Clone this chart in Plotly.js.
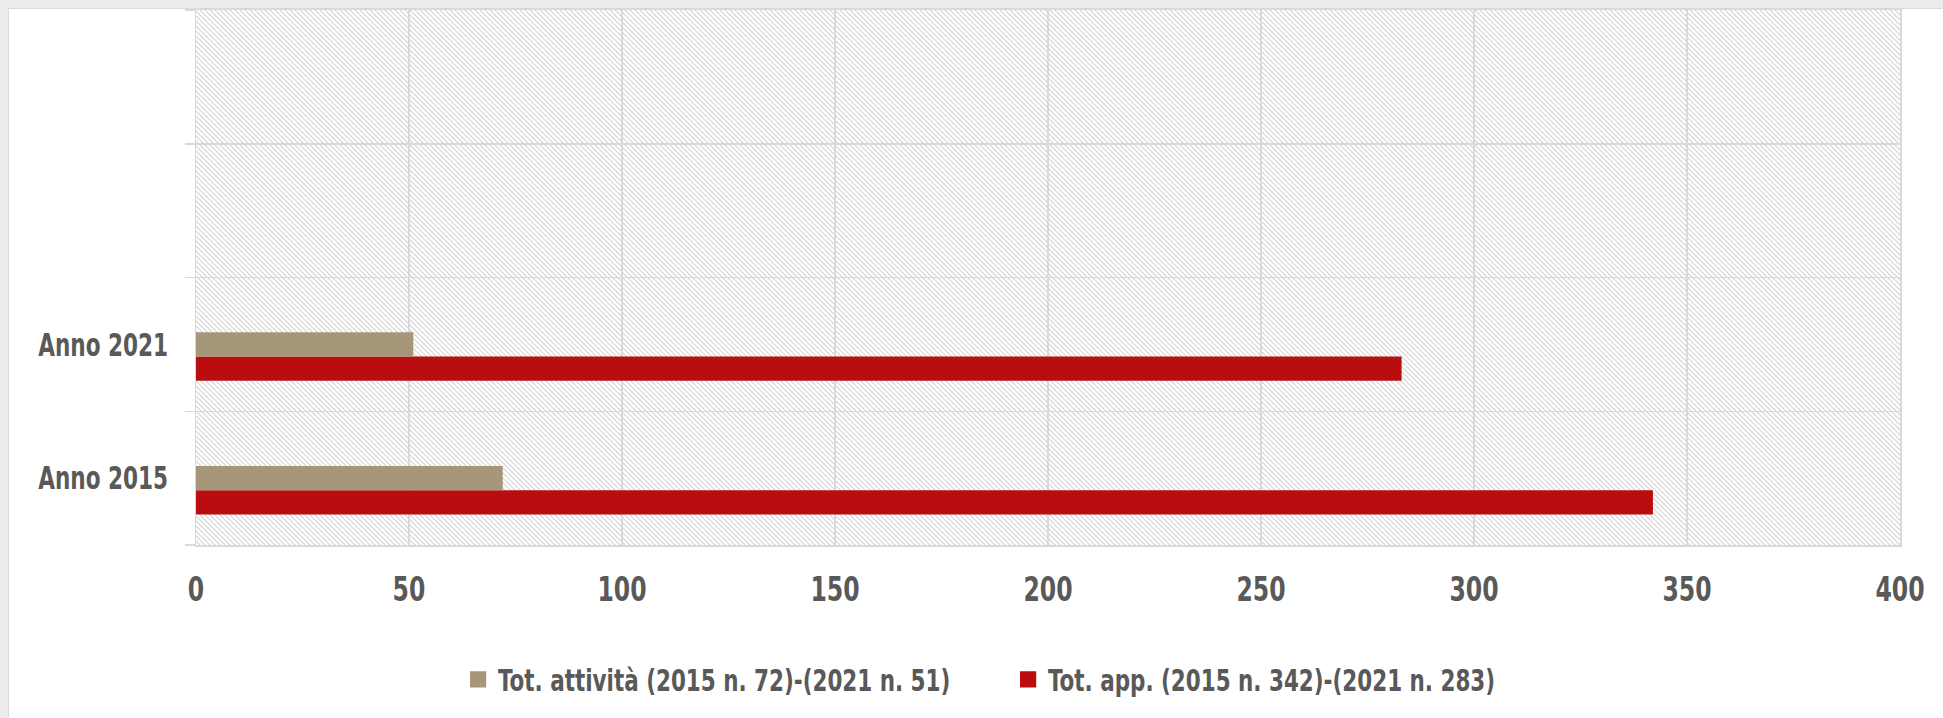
<!DOCTYPE html>
<html>
<head>
<meta charset="utf-8">
<script src="https://cdn.plot.ly/plotly-3.0.1.min.js"></script>
<style>
  html, body { margin: 0; padding: 0; background: #ECECEC; width: 1943px; height: 718px; overflow: hidden; }
  #chart { position: absolute; left: 9px; top: 9px; width: 1934px; height: 709px; background: #fff;
           box-shadow: -1px -1px 0 #DADADA; }
</style>
</head>
<body>
<div id="chart"></div>
<script>
// ---- data ----
const categories = ["Anno 2015", "Anno 2021"];
const emptyCategories = ["Anno 2015", "Anno 2021", " ", "  "];
const totAttivita = [72, 51];
const totApp = [342, 283];
const emptySeries = [null, null, null, null];
const seriesNames = ["Tot. attività (2015 n. 72)-(2021 n. 51)", "Tot. app. (2015 n. 342)-(2021 n. 283)"];
const xTicks = [0, 50, 100, 150, 200, 250, 300, 350, 400];

const FONT = '"Liberation Sans Narrow", "Arial Narrow", "DejaVu Sans Condensed", sans-serif';
const TXT = '#595959';
const GRID = '#D9D9D9';

const traces = [
  { type: 'bar', orientation: 'h', y: categories, x: totApp, name: seriesNames[1],
    marker: { color: '#B90D10' }, legendrank: 2, hoverinfo: 'x' },
  { type: 'bar', orientation: 'h', y: categories, x: totAttivita, name: seriesNames[0],
    marker: { color: '#A6977B' }, legendrank: 1, hoverinfo: 'x' },
  { type: 'bar', orientation: 'h', y: emptyCategories, x: emptySeries, name: '',
    showlegend: false, hoverinfo: 'skip' }
];

const layout = {
  width: 1934, height: 709,
  margin: { l: 187, r: 43, t: 1, b: 173 },
  paper_bgcolor: '#FFFFFF',
  plot_bgcolor: '#FFFFFF',
  barmode: 'group',
  bargap: 0.455,
  bargroupgap: 0,
  font: { family: FONT, color: TXT, size: 32, weight: 700 },
  xaxis: {
    range: [0, 400], tickvals: xTicks, ticks: '',
    showgrid: true, gridcolor: GRID, gridwidth: 1.5,
    showline: true, linecolor: GRID, linewidth: 1.5, mirror: true,
    zeroline: false, ticklabelstandoff: 14,
    tickfont: { family: FONT, size: 34, color: TXT, weight: 700 }
  },
  yaxis: {
    type: 'category', categoryorder: 'array', categoryarray: emptyCategories,
    range: [-0.5, 3.5], dtick: 1,
    tickson: 'boundaries', ticks: 'outside', ticklen: 10, tickcolor: GRID, tickwidth: 1.5,
    showgrid: true, gridcolor: GRID, gridwidth: 1.5,
    showline: true, linecolor: GRID, linewidth: 1.5, mirror: true,
    ticklabelstandoff: 20,
    tickfont: { family: FONT, size: 32, color: TXT, weight: 700 }
  },
  legend: {
    orientation: 'h', xref: 'container', yref: 'container',
    x: 0.5166, xanchor: 'center', y: 0.054, yanchor: 'middle',
    entrywidth: 505, entrywidthmode: 'pixels', bgcolor: '#FFFFFF',
    font: { family: FONT, size: 31, color: TXT, weight: 700 }
  },
  showlegend: true
};

function squeezeText(el, s) {
  const bb = el.getBBox();
  const anchor = el.getAttribute('text-anchor') || 'start';
  let ax = bb.x;
  if (anchor === 'end') ax = bb.x + bb.width;
  else if (anchor === 'middle') ax = bb.x + bb.width / 2;
  const t = el.getAttribute('transform') || '';
  el.setAttribute('transform', t + ' translate(' + ax + ',0) scale(' + s + ',1) translate(' + (-ax) + ',0)');
}

Plotly.newPlot('chart', traces, layout, { displayModeBar: false, staticPlot: true }).then(function (gd) {
  const ns = 'http://www.w3.org/2000/svg';
  const svg = gd.querySelector('svg.main-svg');
  let defs = svg.querySelector('defs');
  if (!defs) { defs = document.createElementNS(ns, 'defs'); svg.insertBefore(defs, svg.firstChild); }
  const pat = document.createElementNS(ns, 'pattern');
  pat.setAttribute('id', 'hatchbg');
  pat.setAttribute('patternUnits', 'userSpaceOnUse');
  pat.setAttribute('width', '5');
  pat.setAttribute('height', '5');
  const r = document.createElementNS(ns, 'rect');
  r.setAttribute('width', '5'); r.setAttribute('height', '5'); r.setAttribute('fill', '#FFFFFF');
  pat.appendChild(r);
  const p = document.createElementNS(ns, 'path');
  p.setAttribute('d', 'M0,0 L5,5 M-1,4 L1,6 M4,-1 L6,1');
  p.setAttribute('stroke', '#D2D2D2');
  p.setAttribute('stroke-width', '1.1');
  pat.appendChild(p);
  defs.appendChild(pat);

  // hatched plot-area background, placed under the grid layer
  const xa = gd._fullLayout.xaxis, ya = gd._fullLayout.yaxis;
  const hatch = document.createElementNS(ns, 'rect');
  hatch.setAttribute('x', xa._offset);
  hatch.setAttribute('y', ya._offset);
  hatch.setAttribute('width', xa._length);
  hatch.setAttribute('height', ya._length);
  hatch.setAttribute('fill', 'url(#hatchbg)');
  const cart = svg.querySelector('.cartesianlayer');
  cart.parentNode.insertBefore(hatch, cart);

  gd.querySelectorAll('.xtick text').forEach(function (el) { squeezeText(el, 0.77); });
  gd.querySelectorAll('.ytick text').forEach(function (el) { squeezeText(el, 0.75); });
  gd.querySelectorAll('.legend text.legendtext').forEach(function (el) { squeezeText(el, 0.77); });
  gd.querySelectorAll('.legend .legendpoints path').forEach(function (el) {
    const t = el.getAttribute('transform') || '';
    el.setAttribute('transform', t + ' scale(1.35)');
  });
});
</script>
</body>
</html>
